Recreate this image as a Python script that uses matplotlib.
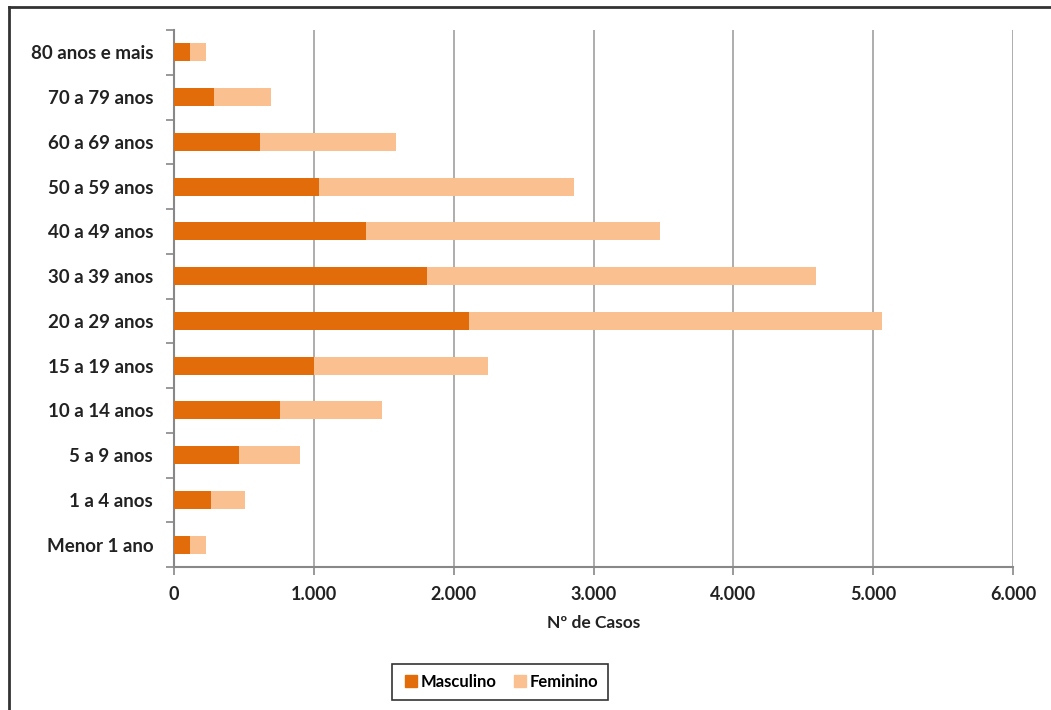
import matplotlib
matplotlib.use('Agg')
import matplotlib.pyplot as plt
from matplotlib.ticker import FuncFormatter, FixedLocator
from matplotlib.lines import Line2D

# faixas etarias e casos por sexo
faixas = ['Menor 1 ano', '1 a 4 anos', '5 a 9 anos', '10 a 14 anos', '15 a 19 anos',
          '20 a 29 anos', '30 a 39 anos', '40 a 49 anos', '50 a 59 anos',
          '60 a 69 anos', '70 a 79 anos', '80 anos e mais']
masculino = [117, 267, 462, 760, 1003, 2110, 1808, 1370, 1036, 612, 288, 117]
total = [232, 507, 898, 1484, 2246, 5060, 4589, 3474, 2864, 1587, 691, 232]
feminino = [t - m for t, m in zip(total, masculino)]

cor_masc = '#E36C0A'
cor_fem = '#FAC090'

plt.rcParams['font.family'] = ['Lato', 'DejaVu Sans']

fig = plt.figure(figsize=(10.51, 7.10), dpi=100)
ax = fig.add_axes([174 / 1051, 1 - 567 / 710, (1013 - 174) / 1051, (567 - 30) / 710])

y = list(range(len(faixas)))
ax.barh(y, masculino, height=0.4, color=cor_masc, label='Masculino', zorder=3)
ax.barh(y, feminino, left=masculino, height=0.4, color=cor_fem, label='Feminino', zorder=3)

ax.set_xlim(0, 6000)
ax.set_ylim(-0.5, len(faixas) - 0.5)
ax.set_xticks(range(0, 6001, 1000))
ax.xaxis.set_major_formatter(FuncFormatter(lambda v, p: '0' if v == 0 else f'{int(v):,}'.replace(',', '.')))
ax.grid(axis='x', color='#a0a0a0', linewidth=1.2, zorder=0)

# ticks do eixo y entre as categorias
ax.yaxis.set_major_locator(FixedLocator([i - 0.5 for i in range(len(faixas) + 1)]))
ax.yaxis.set_minor_locator(FixedLocator(y))
ax.yaxis.set_major_formatter(FuncFormatter(lambda v, p: ''))
ax.set_yticklabels(faixas, minor=True)
ax.tick_params(axis='y', which='minor', length=0, pad=15, labelsize=13.5)
ax.tick_params(axis='y', which='major', length=6, color='#888888', width=1.2)
ax.tick_params(axis='x', length=6, color='#888888', width=1.2, labelsize=13, pad=8)
for lbl in ax.get_yticklabels(minor=True) + ax.get_xticklabels():
    lbl.set_fontweight('bold')
    lbl.set_color('#222222')

for s in ['top', 'right']:
    ax.spines[s].set_visible(False)
for s in ['left', 'bottom']:
    ax.spines[s].set_color('#888888')
    ax.spines[s].set_linewidth(1.5)

ax.set_xlabel('Nº de Casos', fontsize=12.5, fontweight='bold', color='#222222', labelpad=8)

handles = [Line2D([], [], marker='s', linestyle='none', markersize=9, color=cor_masc),
           Line2D([], [], marker='s', linestyle='none', markersize=9, color=cor_fem)]
leg = fig.legend(handles, ['Masculino', 'Feminino'], loc='center', bbox_to_anchor=(500 / 1051, 1 - 682 / 710),
                 ncol=2, frameon=True, fancybox=False, edgecolor='black', handletextpad=0.0,
                 handlelength=1.1, columnspacing=0.9, prop={'weight': 'bold', 'size': 12}, borderpad=0.6)
leg.get_frame().set_linewidth(1.2)

# borda da area do grafico (recortada)
fig.add_artist(Line2D([9 / 1051, 9 / 1051], [0, 1 - 7 / 710], color='#333333', linewidth=2, transform=fig.transFigure))
fig.add_artist(Line2D([9 / 1051, 1], [1 - 7 / 710, 1 - 7 / 710], color='#333333', linewidth=2, transform=fig.transFigure))

fig.savefig('out.png', dpi=100)
